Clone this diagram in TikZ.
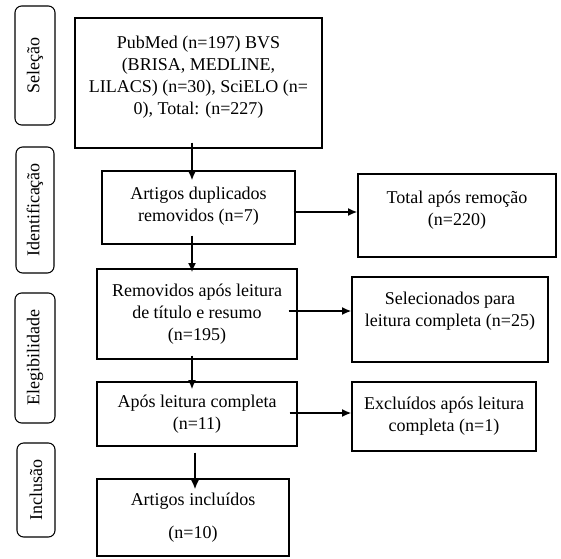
\documentclass[tikz,border=0pt]{standalone}
\usepackage{fontspec}
\setmainfont{Liberation Serif}
\usetikzlibrary{arrows.meta,calc}

\tikzset{
    sz/.style 2 args={minimum width=#1*0.75pt, minimum height=#2*0.75pt}
}

\begin{document}
\begin{tikzpicture}[
    x=0.75pt, y=-0.75pt,
    every node/.style={font=\fontsize{13.5pt}{16.5pt}\selectfont},
    box/.style={draw, line width=0.8pt, align=center, inner sep=0pt},
    stage/.style={draw, line width=0.8pt, rounded corners=5pt, rotate=90, inner sep=0pt},
    arr/.style={line width=1.5pt, -{Latex[length=7pt, width=6pt]}}
]
\useasboundingbox (0,0) rectangle (561,558);

% Left column: stages
\node[stage, sz={119}{40}] (sel)   at (35,65.5) {Seleção};
\node[stage, sz={126}{38}] (ident) at (35,210)  {Identificação};
\node[stage, sz={130}{40}] (eleg)  at (35,358)  {Elegibilidade};
\node[stage, sz={94}{38}]  (incl)  at (36,490)  {Inclusão};

% Middle column: main flow
\node[box, sz={247}{130}] (busca) at (198.5,83) {PubMed (n=197) BVS\\(BRISA, MEDLINE,\\LILACS) (n=30), SciELO (n=\\0), Total: (n=227)\\[-4.5pt]\mbox{}};
\node[box, sz={193}{73}] (dupl) at (198.5,207.5) {Artigos duplicados\\removidos (n=7)\\[-12pt]\mbox{}};
\node[box, sz={200}{90}] (titulo) at (197,314) {Removidos após leitura\\de título e resumo\\(n=195)};
\node[box, sz={200}{64}] (leitura) at (197,414) {Após leitura completa\\(n=11)};
\node[box, sz={192}{77}] (incluidos) at (193,517.5) {Artigos incluídos\\[8.25pt](n=10)};

% Right column: side results
\node[box, sz={198}{83}] (total) at (457,215.5) {Total após remoção\\(n=220)\\[-6pt]\mbox{}};
\node[box, sz={196}{85}] (selec) at (450,319.5) {Selecionados para\\leitura completa (n=25)\\[-1.5pt]\mbox{}};
\node[box, sz={184}{69}] (excl)  at (444,416.5) {Excluídos após leitura\\completa (n=1)};

% Vertical arrows
\draw[arr] ($(busca.south)+(-6.5,-6)$) -- ($(dupl.north)+(-6.5,10)$);
\draw[arr] ($(dupl.south)+(-6.5,-9)$) -- ($(titulo.north)+(-5,4)$);
\draw[arr] ($(titulo.south)+(-5,-4)$) -- ($(leitura.north)+(-5,8)$);
\draw[arr] ($(leitura.south)+(-2,6)$) -- ($(incluidos.north)+(2,11)$);

% Horizontal arrows
\draw[arr] ($(dupl.east)+(-2,4.5)$) coordinate (s1) -- (s1 -| total.west);
\draw[arr] ($(titulo.east)+(-9,-3)$) coordinate (s2) -- (s2 -| selec.west);
\draw[arr] ($(leitura.east)+(-8,-1)$) coordinate (s3) -- (s3 -| excl.west);

\end{tikzpicture}
\end{document}
